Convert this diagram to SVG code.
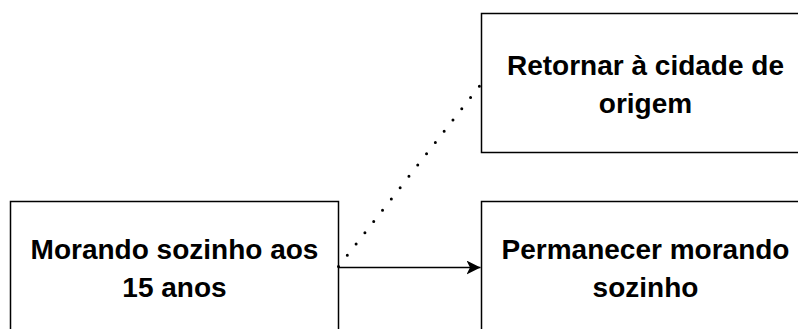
<svg xmlns="http://www.w3.org/2000/svg" width="798" height="329" viewBox="0 0 798 329">
  <style>
    .box { fill: #ffffff; stroke: #000000; stroke-width: 1.5; }
    .label { font-family: "Liberation Sans", Arial, sans-serif; font-size: 28px; font-weight: bold; fill: #000000; text-anchor: middle; }
    .edge { fill: none; stroke: #000000; stroke-width: 1.5; }
    .dotted { fill: none; stroke: #000000; stroke-width: 3; stroke-linecap: round; stroke-dasharray: 0 14.3; }
  </style>
  <defs>
    <marker id="arrow" viewBox="0 0 14 14" refX="14" refY="7" markerWidth="14" markerHeight="14" markerUnits="userSpaceOnUse" orient="auto">
      <path d="M0,0 L14,7 L0,14 L3.5,7 Z" fill="#000000"/>
    </marker>
  </defs>
  <rect width="798" height="329" fill="#ffffff"/>

  <g id="node-morando">
    <rect class="box" x="10.5" y="201.5" width="328" height="140"/>
    <text class="label" x="174.5" y="259">Morando sozinho aos</text>
    <text class="label" x="174.5" y="297">15 anos</text>
  </g>

  <g id="node-retornar">
    <rect class="box" x="481.5" y="13.5" width="328" height="139"/>
    <text class="label" x="645.5" y="75">Retornar à cidade de</text>
    <text class="label" x="645.5" y="113">origem</text>
  </g>

  <g id="node-permanecer">
    <rect class="box" x="481.5" y="201.5" width="328" height="140"/>
    <text class="label" x="645.5" y="259">Permanecer morando</text>
    <text class="label" x="645.5" y="297">sozinho</text>
  </g>

  <g id="connectors">
    <path class="dotted" d="M338.5,266.5 L481.5,83.5"/>
    <path class="edge" d="M338.5,267.5 L480.5,267.5" marker-end="url(#arrow)"/>
  </g>
</svg>
